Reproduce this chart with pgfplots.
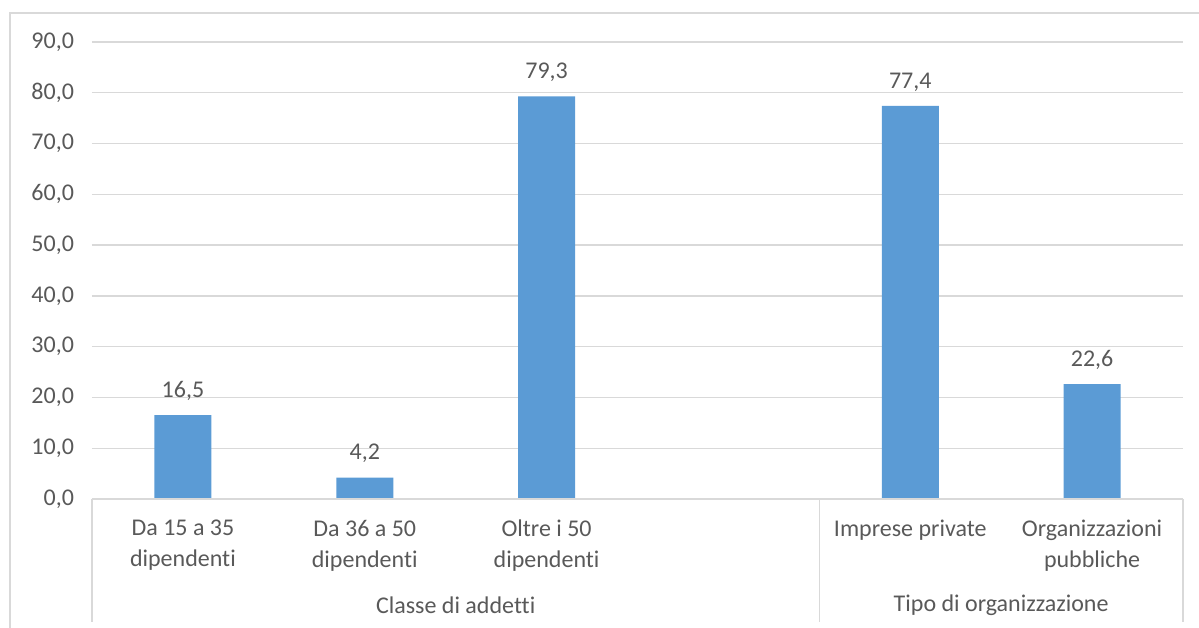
\documentclass[border=0pt]{standalone}
\usepackage{fontspec}
\setmainfont{Carlito}[Ligatures=NoCommon]
\usepackage{pgfplots}
\pgfplotsset{compat=1.18}
\definecolor{barblue}{HTML}{5B9BD5}
\definecolor{txtgray}{HTML}{595959}
\definecolor{gridgray}{HTML}{D9D9D9}

\begin{document}
\begin{tikzpicture}[font=\fontsize{18}{23.25}\selectfont]
\useasboundingbox (0,0) rectangle (899.25pt,471pt);
% outer frame of the chart area
\draw[gridgray, line width=1.2pt] (7.5pt,0) -- (7.5pt,461.25pt) -- (899.25pt,461.25pt);
\begin{axis}[
  at={(69pt,96.75pt)}, anchor=south west,
  scale only axis, width=818.25pt, height=342.75pt,
  xmin=-0.5, xmax=5.5, ymin=0, ymax=90,
  ytick={0,10,...,90},
  xtick={0,1,2,4,5},
  xticklabels={{Da 15 a 35\\dipendenti},{Da 36 a 50\\dipendenti},{Oltre i 50\\dipendenti},{Imprese private},{Organizzazioni\\pubbliche}},
  xticklabel style={align=center, text=txtgray, yshift=-8pt},
  yticklabel style={text=txtgray, xshift=-10pt},
  /pgf/number format/assume math mode=true,
  yticklabel={\pgfmathprintnumber[fixed,fixed zerofill,precision=1,use comma]{\tick}},
  axis line style={draw=none},
  tick style={draw=none},
  ymajorgrids,
  major grid style={gridgray, line width=1pt},
  clip=false,
  ybar, bar width=42.75pt,
  nodes near coords={\pgfmathprintnumber[fixed,fixed zerofill,precision=1,use comma]{\pgfplotspointmeta}},
  every node near coord/.append style={text=txtgray, yshift=7.5pt},
]
\addplot[fill=barblue, draw=none] coordinates {(0,16.5) (1,4.2) (2,79.3) (4,77.4) (5,22.6)};
% baseline and group separators
\draw[gridgray, line width=1pt] (axis cs:-0.5,0) -- (axis cs:5.5,0);
\draw[gridgray, line width=1pt] (axis cs:-0.5,0) -- ++(0pt,-92.25pt);
\draw[gridgray, line width=1pt] (axis cs:3.5,0) -- ++(0pt,-92.25pt);
\draw[gridgray, line width=1pt] (axis cs:5.5,0) -- ++(0pt,-92.25pt);
% group labels
\node[txtgray, yshift=-79.5pt] at (axis cs:1.5,0) {Classe di addetti};
\node[txtgray, yshift=-79.5pt] at (axis cs:4.5,0) {Tipo di organizzazione};
\end{axis}
\end{tikzpicture}
\end{document}
